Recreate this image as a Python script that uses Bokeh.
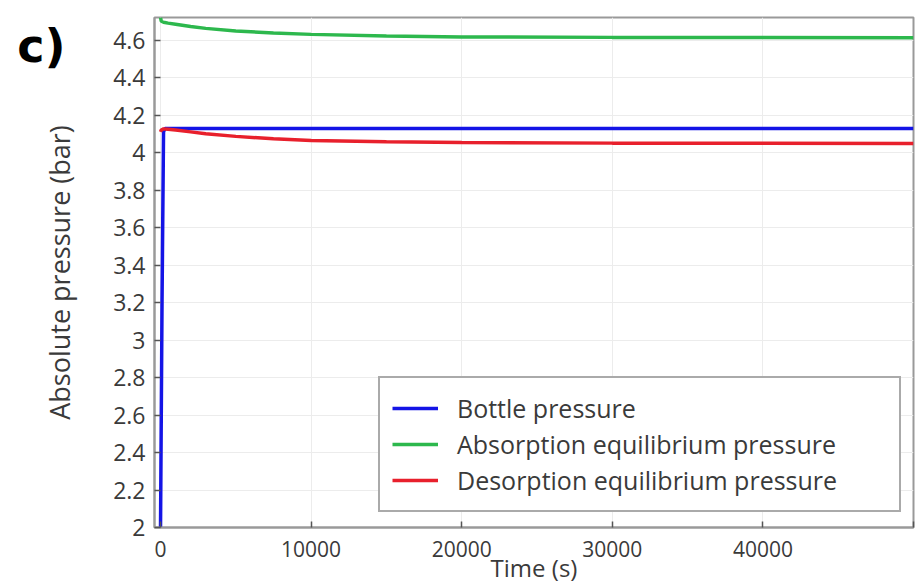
from bokeh.plotting import figure
from bokeh.models import FixedTicker, LinearAxis, Range1d
from bokeh.embed import file_html
from bokeh.resources import INLINE

# ---- data ----
time_blue = [0, 100, 200, 300, 1000, 5000, 10000, 20000, 30000, 40000, 50000]
bottle = [2.0, 3.2, 4.11, 4.128, 4.128, 4.128, 4.128, 4.128, 4.128, 4.128, 4.128]

time_eq = [0, 50, 200, 500, 1000, 2000, 3000, 5000, 7500, 10000, 15000, 20000, 30000, 40000, 50000]
absorption = [4.72, 4.70, 4.695, 4.69, 4.684, 4.672, 4.662, 4.648, 4.637, 4.630, 4.621, 4.616, 4.614, 4.613, 4.612]
desorption = [4.11, 4.12, 4.126, 4.124, 4.12, 4.11, 4.10, 4.086, 4.073, 4.064, 4.057, 4.053, 4.050, 4.049, 4.048]

x_ticks = [0, 10000, 20000, 30000, 40000, 50000]
x_tick_labels = ["0", "10000", "20000", "30000", "40000", ""]
y_ticks = [2.0, 2.2, 2.4, 2.6, 2.8, 3.0, 3.2, 3.4, 3.6, 3.8, 4.0, 4.2, 4.4, 4.6]
y_tick_labels = ["2", "2.2", "2.4", "2.6", "2.8", "3", "3.2", "3.4", "3.6", "3.8", "4", "4.2", "4.4", "4.6"]
panel_tag = "c)"

FONT = "Open Sans"
TXT = "#3a3a3a"

p = figure(width=916, height=586, output_backend="svg", toolbar_location=None,
           x_range=Range1d(-400, 50000), y_range=Range1d(2.0, 4.72),
           min_border_left=154, min_border_right=3, min_border_top=17, min_border_bottom=59)

p.background_fill_color = "white"
p.border_fill_color = "white"
p.outline_line_color = "#999999"
p.outline_line_width = 2

p.line(time_blue, bottle, line_color="#1414e6", line_width=3.5, legend_label="Bottle pressure")
p.line(time_eq, absorption, line_color="#2db84d", line_width=3.5, legend_label="Absorption equilibrium pressure")
p.line(time_eq, desorption, line_color="#e8202c", line_width=3.5, legend_label="Desorption equilibrium pressure")

xt = FixedTicker(ticks=x_ticks)
yt = FixedTicker(ticks=y_ticks)

xa = p.xaxis[0]
xa.ticker = xt
xa.major_label_overrides = {t: l for t, l in zip(x_ticks, x_tick_labels)}
ya = p.yaxis[0]
ya.ticker = yt
ya.major_label_overrides = {t: l for t, l in zip(y_ticks, y_tick_labels)}

for ax in (xa, ya):
    ax.axis_line_color = "#999999"
    ax.axis_line_width = 2
    ax.major_tick_in = 6
    ax.major_tick_out = 0
    ax.major_tick_line_color = "#555555"
    ax.major_tick_line_width = 1.5
    ax.minor_tick_line_color = None
    ax.major_label_text_font = FONT
    ax.major_label_text_color = TXT
    ax.axis_label_text_font = FONT
    ax.axis_label_text_font_style = "normal"
    ax.axis_label_text_color = TXT

xa.major_label_text_font_size = "21px"
xa.axis_label_text_font_size = "24px"
xa.axis_label = "Time (s)"
xa.major_label_standoff = 13
xa.axis_label_standoff = -9
ya.major_label_text_font_size = "23px"
ya.axis_label_text_font_size = "27px"
ya.axis_label = "Absolute pressure (bar)"
ya.major_label_standoff = 9
ya.axis_label_standoff = 32

# panel tag "c)" drawn as the single label of an extra, line-less left axis
tag_axis = LinearAxis(ticker=FixedTicker(ticks=[4.57]), major_label_overrides={4.57: panel_tag})
tag_axis.axis_line_color = None
tag_axis.major_tick_line_color = None
tag_axis.minor_tick_line_color = None
tag_axis.major_tick_in = 0
tag_axis.major_tick_out = 0
tag_axis.major_label_text_font = "DejaVu Sans"
tag_axis.major_label_text_font_style = "bold"
tag_axis.major_label_text_font_size = "46px"
tag_axis.major_label_text_color = "black"
tag_axis.major_label_standoff = -27
p.add_layout(tag_axis, "left")

p.xgrid.ticker = xt
p.ygrid.ticker = yt
p.xgrid.grid_line_color = "#ececec"
p.ygrid.grid_line_color = "#ececec"

lg = p.legend[0]
lg.location = (224, 15)
lg.border_line_color = "#555555"
lg.border_line_width = 2
lg.background_fill_color = "white"
lg.background_fill_alpha = 1
lg.label_text_font = FONT
lg.label_text_font_size = "25px"
lg.label_text_color = TXT
lg.glyph_width = 46
lg.glyph_height = 36
lg.label_height = 36
lg.label_width = 430
lg.label_standoff = 19
lg.spacing = 0
lg.padding = 12
lg.margin = 0

open("out.html", "w").write(file_html(p, INLINE))
